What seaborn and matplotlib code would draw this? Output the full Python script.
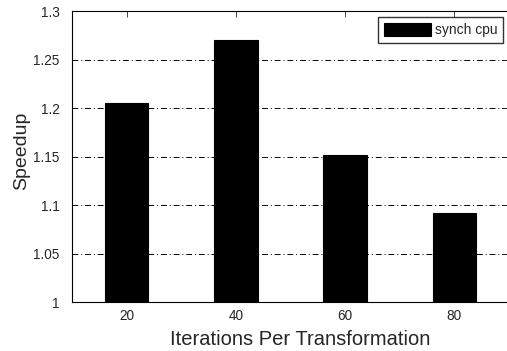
import matplotlib
matplotlib.use("Agg")
import matplotlib.pyplot as plt
import seaborn as sns
import pandas as pd

iterations = [20, 40, 60, 80]
speedup = [1.205, 1.27, 1.152, 1.092]
series_name = "synch cpu"
y_ticks = [1.0, 1.05, 1.1, 1.15, 1.2, 1.25, 1.3]
y_tick_labels = ["1", "1.05", "1.1", "1.15", "1.2", "1.25", "1.3"]

sns.set_style("white")
plt.rcParams["font.family"] = ["Liberation Sans", "DejaVu Sans"]

df = pd.DataFrame({"iter": iterations, "speedup": speedup, "series": series_name})

fig = plt.figure(figsize=(5.07, 3.51), dpi=100)
ax = fig.add_axes([0.142, 0.1396, 0.862, 0.829])

sns.barplot(data=df, x="iter", y="speedup", hue="series", native_scale=True,
            palette=["black"], width=0.4, edgecolor="black", linewidth=0.8,
            saturation=1, ax=ax)

ax.set_xlim(10, 90)
ax.set_ylim(1.0, 1.3)
ax.set_xticks(iterations)
ax.set_xticklabels([str(v) for v in iterations])
ax.set_yticks(y_ticks)
ax.set_yticklabels(y_tick_labels)

for y in y_ticks[1:-1]:
    ax.axhline(y, color="black", linestyle=(0, (6, 3, 1, 3)), linewidth=0.7,
               zorder=0.5)

ax.tick_params(direction="in", length=4, width=0.6, labelsize=9.8,
               top=True, right=True)
ax.tick_params(axis="y", pad=9)
ax.tick_params(axis="x", pad=5)
for s in ax.spines.values():
    s.set_color("black")
    s.set_linewidth(0.8)

ax.set_xlabel("Iterations Per Transformation", fontsize=14.5)
ax.xaxis.set_label_coords(0.522, -0.095)
ax.set_ylabel("Speedup", fontsize=14)
ax.yaxis.set_label_coords(-0.096, 0.52)

leg = ax.legend(loc="upper right", bbox_to_anchor=(0.9856, 0.978), fontsize=10,
                frameon=True, fancybox=False, edgecolor="black",
                handlelength=3.4, handleheight=1.1, borderpad=0.4,
                handletextpad=0.25, borderaxespad=0)
leg.get_frame().set_linewidth(1.0)

fig.savefig("out.png", dpi=100)
